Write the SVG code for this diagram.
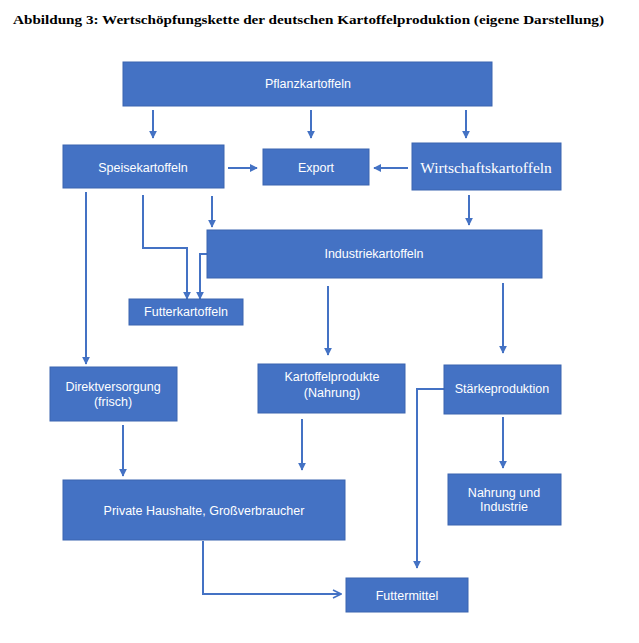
<svg xmlns="http://www.w3.org/2000/svg" width="639" height="643" viewBox="0 0 639 643">
<style>
.box{fill:#4472C4;stroke:#3A64B0;stroke-width:1}
.t{font-family:"Liberation Sans",Arial,sans-serif;font-size:12.5px;fill:#FFFFFF;text-anchor:middle}
.ts{font-family:"Liberation Serif","Times New Roman",serif;font-size:15.5px;fill:#FFFFFF;text-anchor:middle}
.c{fill:none;stroke:#4472C4;stroke-width:2}
.title{font-family:"Liberation Serif","Times New Roman",serif;font-size:13.5px;font-weight:bold;fill:#000000}
</style>
<defs>
<marker id="ah" viewBox="0 0 10 10" refX="9" refY="5" markerWidth="4" markerHeight="4" orient="auto" markerUnits="strokeWidth">
<path d="M0,0 L10,5 L0,10 Z" fill="#4472C4"/>
</marker>
<marker id="oh" viewBox="0 0 10 10" refX="9" refY="5" markerWidth="5" markerHeight="5" orient="auto" markerUnits="strokeWidth">
<path d="M1,1 L9,5 L1,9" fill="none" stroke="#4472C4" stroke-width="1.6"/>
</marker>
</defs>
<rect width="639" height="643" fill="#FFFFFF"/>
<text class="title" x="13" y="24" textLength="591" lengthAdjust="spacingAndGlyphs">Abbildung 3: Wertschöpfungskette der deutschen Kartoffelproduktion (eigene Darstellung)</text>

<g id="connectors">
<path class="c" d="M153,110 V138" marker-end="url(#ah)"/>
<path class="c" d="M311,110 V138" marker-end="url(#ah)"/>
<path class="c" d="M466,110 V138" marker-end="url(#ah)"/>
<path class="c" d="M228,168 H257" marker-end="url(#ah)"/>
<path class="c" d="M408,168 H374" marker-end="url(#ah)"/>
<path class="c" d="M86,192 V364" marker-end="url(#ah)"/>
<path class="c" d="M143,195 V248 H187 V299" marker-end="url(#ah)"/>
<path class="c" d="M212,196 V227" marker-end="url(#ah)"/>
<path class="c" d="M469,195 V225" marker-end="url(#ah)"/>
<path class="c" d="M207,254 H200 V299" marker-end="url(#ah)"/>
<path class="c" d="M328,286 V355" marker-end="url(#ah)"/>
<path class="c" d="M503,283 V353" marker-end="url(#ah)"/>
<path class="c" d="M123,425 V476" marker-end="url(#ah)"/>
<path class="c" d="M302,419 V470" marker-end="url(#ah)"/>
<path class="c" d="M503,417 V468" marker-end="url(#ah)"/>
<path class="c" d="M444,389 H417 V568" marker-end="url(#ah)"/>
<path class="c" d="M203,541 V594 H341" marker-end="url(#oh)"/>
</g>

<g id="pflanzkartoffeln"><rect class="box" x="123" y="62" width="369" height="44"/><text class="t" x="308" y="88">Pflanzkartoffeln</text></g>
<g id="speisekartoffeln"><rect class="box" x="63" y="145" width="161" height="43"/><text class="t" x="143" y="172">Speisekartoffeln</text></g>
<g id="export"><rect class="box" x="263" y="149" width="106" height="36"/><text class="t" x="316" y="172">Export</text></g>
<g id="wirtschaftskartoffeln"><rect class="box" x="412" y="143" width="149" height="47"/><text class="ts" x="486" y="173">Wirtschaftskartoffeln</text></g>
<g id="industriekartoffeln"><rect class="box" x="207" y="230" width="335" height="48"/><text class="t" x="374" y="258">Industriekartoffeln</text></g>
<g id="futterkartoffeln"><rect class="box" x="129" y="299" width="114" height="26"/><text class="t" x="186" y="316">Futterkartoffeln</text></g>
<g id="direktversorgung"><rect class="box" x="50" y="367" width="127" height="54"/><text class="t" x="113" y="391">Direktversorgung</text><text class="t" x="113" y="406">(frisch)</text></g>
<g id="kartoffelprodukte"><rect class="box" x="258" y="364" width="147" height="49"/><text class="t" x="332" y="381">Kartoffelprodukte</text><text class="t" x="332" y="397">(Nahrung)</text></g>
<g id="staerkeproduktion"><rect class="box" x="444" y="365" width="117" height="49"/><text class="t" x="502" y="393">Stärkeproduktion</text></g>
<g id="nahrung-industrie"><rect class="box" x="448" y="474" width="113" height="51"/><text class="t" x="504" y="497">Nahrung und</text><text class="t" x="504" y="511">Industrie</text></g>
<g id="private-haushalte"><rect class="box" x="63" y="480" width="282" height="60"/><text class="t" x="204" y="515">Private Haushalte, Großverbraucher</text></g>
<g id="futtermittel"><rect class="box" x="346" y="578" width="122" height="34"/><text class="t" x="407" y="600">Futtermittel</text></g>
</svg>
